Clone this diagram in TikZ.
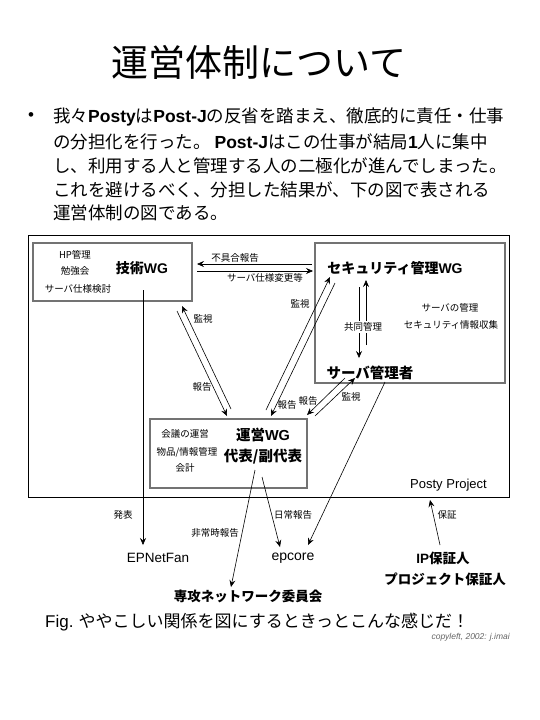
\documentclass[tikz,border=0pt]{standalone}
\usepackage{fontspec}
\setmainfont{Noto Sans CJK JP}
\newfontfamily\lat{Liberation Sans}
\usetikzlibrary{arrows.meta}
\begin{document}
\begin{tikzpicture}[x=1pt,y=-1pt,
  wg/.style={draw=black!55,line width=1.3pt,inner sep=0pt},
  lbl/.style={inner sep=0pt,font=\fontsize{9.5}{11}\selectfont},
  ttl/.style={inner sep=0pt,font=\fontsize{14}{16}\selectfont\bfseries},
  ext/.style={inner sep=0pt,font=\fontsize{13.5}{16}\selectfont\bfseries},
  body/.style={inner sep=0pt,anchor=west,font=\fontsize{17.5}{20}\selectfont},
  conn/.style={line width=0.6pt,-{Stealth[length=7pt,width=6pt,inset=2.5pt]}},
  plain/.style={line width=0.6pt}]
\useasboundingbox (0,0) rectangle (540,720);
\fill[white] (0,0) rectangle (540,720);
% title
\node[inner sep=0pt,font=\fontsize{37}{40}\selectfont] (title) at (259,62) {運営体制について};
% bullet text
\node[inner sep=0pt,font=\fontsize{17}{20}\selectfont\lat] (bul) at (31,117) {•};
\node[body] (l1) at (53,117) {我々{\lat\bfseries Posty}は{\lat\bfseries Post-J}の反省を踏まえ、徹底的に責任・仕事};
\node[body] (l2) at (53,142) {の分担化を行った。 {\lat\bfseries Post-J}はこの仕事が結局{\lat\bfseries 1}人に集中};
\node[body] (l3) at (53,166) {し、利用する人と管理する人の二極化が進んでしまった。};
\node[body] (l4) at (53,190) {これを避けるべく、分担した結果が、下の図で表される};
\node[body] (l5) at (53,213) {運営体制の図である。};
% outer box
\node[draw=black,line width=0.8pt,minimum width=481pt,minimum height=262pt,inner sep=0pt] (outer) at (268.5,366) {};
\node[inner sep=0pt,font=\fontsize{13}{15}\selectfont\lat,anchor=east] (pp) at (487,485) {Posty Project};
% WG boxes
\node[wg,minimum width=159pt,minimum height=58pt] (tech) at (112.5,272) {};
\node[wg,minimum width=190pt,minimum height=140pt] (sec) at (410,313) {};
\node[wg,minimum width=157pt,minimum height=69pt] (unei) at (228.5,453.5) {};
% tech contents
\node[ttl] (techt) at (142,268) {技術{\lat\bfseries WG}};
\node[lbl] (t1) at (75,255) {HP管理};
\node[lbl] (t2) at (75,271) {勉強会};
\node[lbl] (t3) at (78,289) {サーバ仕様検討};
% sec contents
\node[ttl] (sect) at (395,268) {セキュリティ管理{\lat\bfseries WG}};
\node[lbl] (s1) at (450,308) {サーバの管理};
\node[lbl] (s2) at (451,325) {セキュリティ情報収集};
\node[ttl,font=\fontsize{14.5}{16}\selectfont\bfseries] (adm) at (370,373) {サーバ管理者};
% unei contents
\node[ttl,font=\fontsize{14.5}{16}\selectfont\bfseries] (ueit) at (263,435) {運営{\lat\bfseries WG}};
\node[ttl,font=\fontsize{14.5}{16}\selectfont\bfseries] (uei2) at (263,457) {代表/副代表};
\node[lbl] (u1) at (185,434) {会議の運営};
\node[lbl] (u2) at (187,452) {物品/情報管理};
\node[lbl] (u3) at (185,468) {会計};
% external
\node[ext,font=\fontsize{13.5}{16}\selectfont\lat] (epn) at (158,558) {EPNetFan};
\node[ext,font=\fontsize{14}{16}\selectfont\lat] (epc) at (293,558) {epcore};
\node[ext] (ip) at (443,558) {{\lat\bfseries IP}保証人};
\node[ext] (pj) at (445,579) {プロジェクト保証人};
\node[ext] (sen) at (248,596) {専攻ネットワーク委員会};
% caption
\node[inner sep=0pt,anchor=west,font=\fontsize{17}{20}\selectfont] (fig) at (45,622) {{\lat Fig.} ややこしい関係を図にするときっとこんな感じだ！};
\node[inner sep=0pt,anchor=east,text=black!60,font=\fontsize{8.5}{10}\selectfont\lat\itshape] (copy) at (510,637) {copyleft, 2002: j.imai};
% coordinates
\coordinate (h1s) at (312,264); \coordinate (h1e) at (197,264);
\coordinate (h2s) at (197,271); \coordinate (h2e) at (313,271);
\coordinate (v1s) at (359,287); \coordinate (v1e) at (359,358);
\coordinate (v2s) at (366,345); \coordinate (v2e) at (366,280);
\coordinate (a1s) at (231,409); \coordinate (a1e) at (182,306);
\coordinate (a2s) at (177,311); \coordinate (a2e) at (227,416);
\coordinate (b1s) at (266,410); \coordinate (b1e) at (330,277);
\coordinate (b2s) at (335,283); \coordinate (b2e) at (271,416);
\coordinate (c1s) at (345,378); \coordinate (c1e) at (307,415);
\coordinate (c2s) at (315,416); \coordinate (c2e) at (355,378);
\coordinate (d1s) at (385,382); \coordinate (d1e) at (308,545);
\coordinate (e1s) at (255,470); \coordinate (e1e) at (231,587);
\coordinate (e2s) at (262,477); \coordinate (e2e) at (280,547);
\coordinate (f1s) at (143,290); \coordinate (f1e) at (143,545);
\coordinate (g1s) at (440,545); \coordinate (g1e) at (430,500);
% connectors
\draw[conn] (h1s) -- (h1e);
\draw[conn] (h2s) -- (h2e);
\node[lbl] (lh1) at (235,258) {不具合報告};
\node[lbl] (lh2) at (265,278) {サーバ仕様変更等};
\draw[conn] (v1s) -- (v1e);
\draw[conn] (v2s) -- (v2e);
\node[lbl,fill=white,inner sep=2pt] (lv) at (363,327) {共同管理};
\draw[conn] (a1s) -- (a1e);
\draw[conn] (a2s) -- (a2e);
\node[lbl] (la1) at (203,319) {監視};
\node[lbl] (la2) at (202,387) {報告};
\draw[conn] (b1s) -- (b1e);
\draw[conn] (b2s) -- (b2e);
\node[lbl] (lb1) at (300,304) {監視};
\node[lbl] (lb2) at (287,405) {報告};
\draw[conn] (c1s) -- (c1e);
\draw[conn] (c2s) -- (c2e);
\node[lbl] (lc1) at (308,401) {報告};
\node[lbl] (lc2) at (351,397) {監視};
\draw[conn] (d1s) -- (d1e);
\draw[conn] (e1s) -- (e1e);
\draw[conn] (e2s) -- (e2e);
\node[lbl] (le1) at (215,533) {非常時報告};
\node[lbl] (le2) at (293,515) {日常報告};
\draw[conn] (f1s) -- (f1e);
\node[lbl] (lf1) at (123,515) {発表};
\draw[conn] (g1s) -- (g1e);
\node[lbl] (lg1) at (447,515) {保証};
\end{tikzpicture}
\end{document}
